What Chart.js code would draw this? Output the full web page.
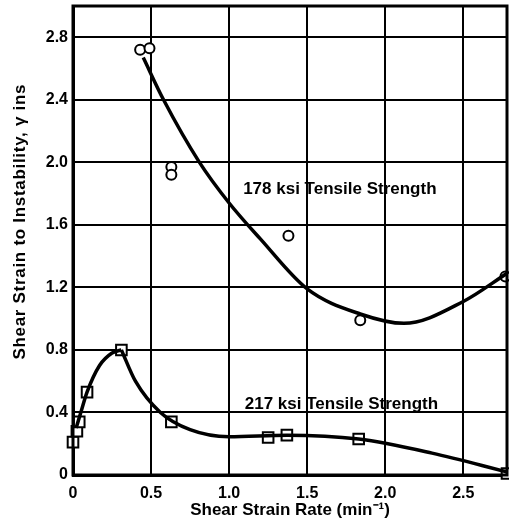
<!DOCTYPE html>
<html>
<head>
<meta charset="utf-8">
<script src="https://cdn.jsdelivr.net/npm/chart.js@4/dist/chart.umd.min.js"></script>
<style>
  body { margin: 0; background: #fff; }
  #wrap { width: 509px; height: 524px; }
</style>
</head>
<body>
<div id="wrap"><canvas id="chart"></canvas></div>
<script>
// measured points, 178 ksi (circles)
const rate_178 = [0.43, 0.49, 0.63, 0.63, 1.38, 1.84, 2.77];
const strain_178 = [2.72, 2.73, 1.97, 1.92, 1.53, 0.99, 1.27];

// faired curve, 178 ksi
const curve_x_178 = [0.45, 0.58, 0.81, 1.0, 1.2, 1.5, 1.84, 2.12, 2.5, 2.78];
const curve_y_178 = [2.67, 2.40, 2.00, 1.74, 1.51, 1.19, 1.03, 0.97, 1.11, 1.29];

// measured points, 217 ksi (squares)
const rate_217 = [0.0, 0.025, 0.04, 0.09, 0.31, 0.63, 1.25, 1.37, 1.83, 2.78];
const strain_217 = [0.21, 0.28, 0.34, 0.53, 0.80, 0.34, 0.24, 0.255, 0.23, 0.01];

// faired curve, 217 ksi (rising branch and falling branch, cusp at peak)
const rise_x_217 = [0.02, 0.05, 0.09, 0.17, 0.25, 0.31];
const rise_y_217 = [0.30, 0.40, 0.53, 0.70, 0.78, 0.80];
const fall_x_217 = [0.31, 0.40, 0.56, 0.75, 1.0, 1.37, 1.83, 2.3, 2.78];
const fall_y_217 = [0.80, 0.60, 0.40, 0.29, 0.245, 0.255, 0.23, 0.14, 0.02];

const x_ticks = [0, 0.5, 1.0, 1.5, 2.0, 2.5];
const x_tick_labels = ["0", "0.5", "1.0", "1.5", "2.0", "2.5"];
const y_ticks = [0, 0.4, 0.8, 1.2, 1.6, 2.0, 2.4, 2.8];
const y_tick_labels = ["0", "0.4", "0.8", "1.2", "1.6", "2.0", "2.4", "2.8"];

const label_178 = "178 ksi Tensile Strength";
const label_217 = "217 ksi Tensile Strength";
const y_title = "Shear Strain to Instability, \u03B3 ins";

function pairs(xs, ys) {
    return xs.map((x, i) => ({ x: x, y: ys[i] }));
}

const FONT = "'Liberation Sans', Arial, sans-serif";

// frame round the plot, the two curve labels and the y title
const extras = {
    id: "extras",
    afterDatasetsDraw(chart) {
        const ctx = chart.ctx;
        const a = chart.chartArea;
        const xs = chart.scales.x, ys = chart.scales.y;
        ctx.save();
        ctx.strokeStyle = "#000";
        ctx.lineWidth = 3;
        ctx.strokeRect(a.left, a.top, a.right - a.left, a.bottom - a.top);
        ctx.fillStyle = "#000";
        ctx.font = "bold 17px " + FONT;
        ctx.textBaseline = "middle";
        ctx.textAlign = "left";
        ctx.fillText(label_178, xs.getPixelForValue(1.09), ys.getPixelForValue(1.83));
        ctx.fillText(label_217, xs.getPixelForValue(1.10), ys.getPixelForValue(0.45));
        // y title sits a little above the middle of the axis
        ctx.translate(20, ys.getPixelForValue(1.62));
        ctx.rotate(-Math.PI / 2);
        ctx.textAlign = "center";
        ctx.letterSpacing = "0.7px";
        ctx.fillText(y_title, 0, 0);
        ctx.restore();
    }
};

const line_style = {
    type: "line",
    borderColor: "#000",
    borderWidth: 3.5,
    pointRadius: 0,
    fill: false,
    cubicInterpolationMode: "monotone"
};

new Chart(document.querySelector("#chart"), {
    type: "scatter",
    data: {
        datasets: [
            Object.assign({ data: pairs(curve_x_178, curve_y_178) }, line_style),
            Object.assign({ data: pairs(rise_x_217, rise_y_217) }, line_style),
            Object.assign({ data: pairs(fall_x_217, fall_y_217) }, line_style),
            {
                data: pairs(rate_178, strain_178),
                pointStyle: "circle",
                pointRadius: 5,
                pointBackgroundColor: "#fff",
                pointBorderColor: "#000",
                pointBorderWidth: 2,
                clip: false
            },
            {
                data: pairs(rate_217, strain_217),
                pointStyle: "rect",
                pointRadius: 7.5,
                pointBackgroundColor: "#fff",
                pointBorderColor: "#000",
                pointBorderWidth: 2,
                clip: false
            }
        ]
    },
    options: {
        responsive: true,
        maintainAspectRatio: false,
        animation: false,
        layout: { autoPadding: false, padding: { top: 6, right: 2, left: 0, bottom: 0 } },
        plugins: { legend: { display: false }, tooltip: { enabled: false } },
        scales: {
            x: {
                type: "linear",
                min: 0,
                max: 2.78,
                afterFit: (s) => { s.height = 49; s.paddingLeft = 0; s.paddingRight = 0; },
                afterBuildTicks: (s) => { s.ticks = x_ticks.map(v => ({ value: v })); },
                grid: { color: "#000", lineWidth: 2, drawTicks: false },
                border: { color: "#000", width: 3 },
                ticks: {
                    color: "#000",
                    padding: 9,
                    font: { family: FONT, size: 16, weight: "bold" },
                    callback: (v) => x_tick_labels[x_ticks.indexOf(v)]
                },
                title: {
                    display: true,
                    text: "Shear Strain Rate (min\u207B\u00B9)",
                    color: "#000",
                    padding: { top: 0, bottom: 3 },
                    font: { family: FONT, size: 17, weight: "bold" }
                }
            },
            y: {
                type: "linear",
                min: 0,
                max: 3.0,
                afterFit: (s) => { s.width = 73; s.paddingTop = 0; s.paddingBottom = 0; },
                afterBuildTicks: (s) => { s.ticks = y_ticks.map(v => ({ value: v })); },
                grid: { color: "#000", lineWidth: 2, drawTicks: false },
                border: { color: "#000", width: 3 },
                ticks: {
                    color: "#000",
                    padding: 5,
                    font: { family: FONT, size: 16, weight: "bold" },
                    callback: (v) => y_tick_labels[y_ticks.indexOf(v)]
                }
            }
        }
    },
    plugins: [extras]
});
</script>
</body>
</html>
